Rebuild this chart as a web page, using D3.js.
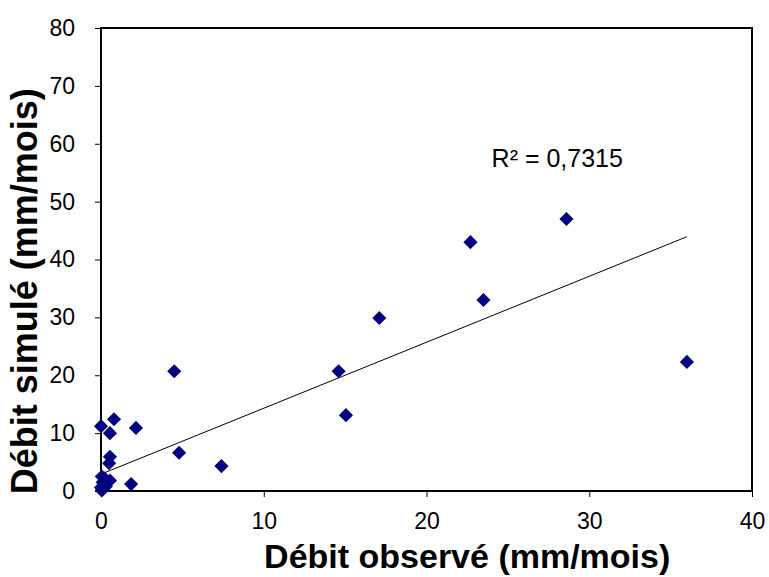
<!DOCTYPE html>
<html>
<head>
<meta charset="utf-8">
<script src="https://cdn.jsdelivr.net/npm/d3@7"></script>
<style>
  body { margin: 0; background: #fff; }
  svg { font-family: "Liberation Sans", Arial, sans-serif; }
</style>
</head>
<body>
<svg id="chart" width="769" height="577"></svg>
<script>
// Observed vs simulated flow (mm/mois)
const observed = [36.0, 28.6, 22.7, 23.5, 17.1, 14.6, 15.05, 4.5, 4.8, 7.4, 2.15, 1.85,
  0.8, 0.0, 0.55, 0.55, 0.5, 0.05, 0.1, 0.55, 0.2, 0.0, 0.05, 0.3, 0.1];
const simulated = [22.3, 47.0, 43.0, 33.0, 29.9, 20.7, 13.1, 20.7, 6.6, 4.3, 10.9, 1.2,
  12.4, 11.2, 10.0, 5.9, 4.8, 2.5, 1.5, 1.8, 2.2, 0.6, 0.1, 0.8, 0.3];
const xTicks = [0, 10, 20, 30, 40];
const yTicks = [0, 10, 20, 30, 40, 50, 60, 70, 80];
// linear trendline
const trendIntercept = 2.9;
const trendSlope = 1.14;
const r2Label = "R² = 0,7315";

const points = observed.map((v, i) => ({ x: v, y: simulated[i] }));

const margin = { top: 28, right: 17, bottom: 86, left: 101 };
const width = 769 - margin.left - margin.right;
const height = 577 - margin.top - margin.bottom;

const svg = d3.select("#chart")
  .append("g")
  .attr("transform", "translate(" + margin.left + "," + margin.top + ")");

const x = d3.scaleLinear().domain([0, 40]).range([0, width]);
const y = d3.scaleLinear().domain([0, 80]).range([height, 0]);

// plot frame
svg.append("rect")
  .attr("width", width)
  .attr("height", height)
  .attr("fill", "none")
  .attr("stroke", "#000")
  .attr("stroke-width", 2);

// axes
const xAxis = svg.append("g")
  .attr("transform", "translate(0," + height + ")")
  .call(d3.axisBottom(x).tickValues(xTicks).tickSize(6).tickPadding(16).tickFormat(d3.format("d")));

const yAxis = svg.append("g")
  .call(d3.axisLeft(y).tickValues(yTicks).tickSize(6).tickPadding(20).tickFormat(d3.format("d")));

[xAxis, yAxis].forEach(a => {
  a.select(".domain").remove();
  a.selectAll("line").attr("stroke", "#000").attr("stroke-width", 1);
  a.selectAll("text")
    .attr("fill", "#000")
    .style("font-size", "23px")
    .style("font-family", "'Liberation Sans', Arial, sans-serif");
});

// trendline over data range
const xExt = d3.extent(observed);
svg.append("line")
  .attr("x1", x(xExt[0]))
  .attr("y1", y(trendIntercept + trendSlope * xExt[0]))
  .attr("x2", x(xExt[1]))
  .attr("y2", y(trendIntercept + trendSlope * xExt[1]))
  .attr("stroke", "#000")
  .attr("stroke-width", 1);

// diamond markers
const diamond = d3.symbol().type(d3.symbolSquare).size(100);
svg.selectAll("path.pt")
  .data(points)
  .enter().append("path")
  .attr("class", "pt")
  .attr("d", diamond)
  .attr("transform", d => "translate(" + x(d.x) + "," + y(d.y) + ") rotate(45)")
  .attr("fill", "#000080");

// R² label
svg.append("text")
  .attr("x", x(24.0))
  .attr("y", y(55.9))
  .style("font-size", "25px")
  .text(r2Label);

// axis titles
svg.append("text")
  .attr("x", x(22.5))
  .attr("y", height + 77)
  .attr("text-anchor", "middle")
  .style("font-size", "34px")
  .style("font-weight", "bold")
  .text("Débit observé (mm/mois)");

svg.append("text")
  .attr("transform", "rotate(-90)")
  .attr("x", -y(34.5))
  .attr("y", -64)
  .attr("text-anchor", "middle")
  .style("font-size", "36px")
  .style("font-weight", "bold")
  .text("Débit simulé (mm/mois)");
</script>
</body>
</html>
